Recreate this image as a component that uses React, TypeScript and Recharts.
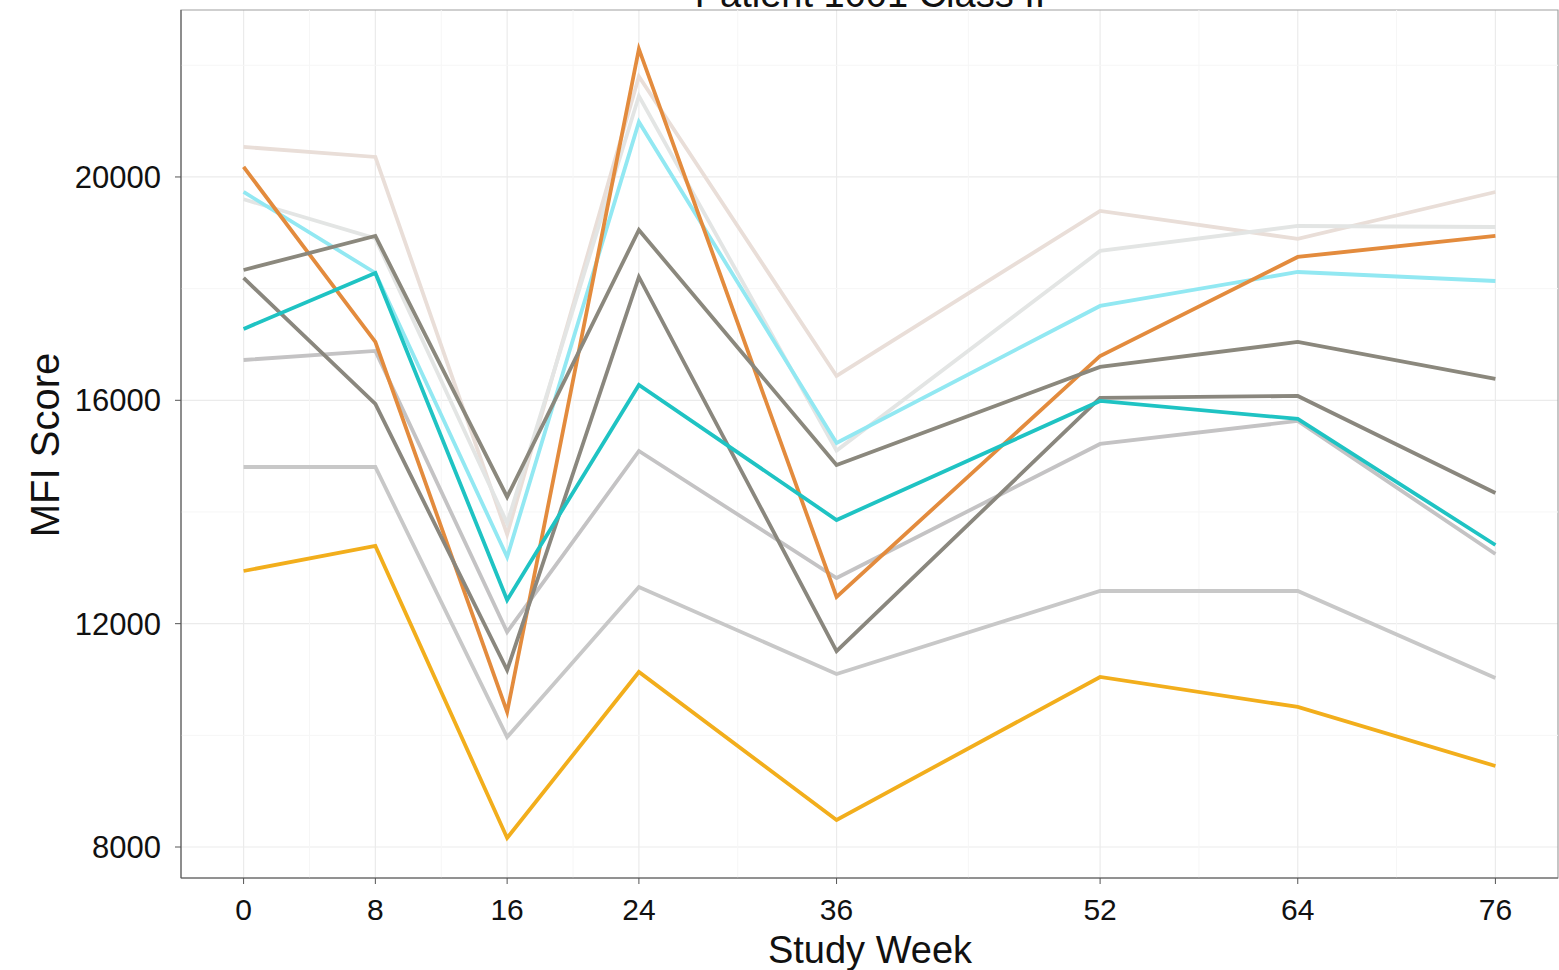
import { LineChart, Line, XAxis, YAxis, CartesianGrid, ReferenceLine, ReferenceArea } from "recharts";

const weeks = [0, 8, 16, 24, 36, 52, 64, 76];
const weekTicks = [0, 8, 16, 24, 36, 52, 64, 76];
const weekMinor = [4, 12, 20, 30, 44, 58, 70];
const scoreTicks = [8000, 12000, 16000, 20000];
const scoreMinor = [10000, 14000, 18000, 22000];

const beige = [20537, 20358, 13600, 21800, 16436, 19391, 18890, 19731];
const paleGray = [19600, 18900, 13800, 21450, 15100, 18675, 19122, 19104];
const orange = [20179, 17045, 10418, 22292, 12478, 16794, 18567, 18943];
const lightCyan = [19731, 18280, 13194, 20985, 15236, 17690, 18298, 18137];
const darkGrayA = [18334, 18943, 14269, 19050, 14842, 16597, 17045, 16382];
const darkGrayB = [18191, 15934, 11170, 18209, 11510, 16042, 16078, 14340];
const teal = [17278, 18280, 12424, 16275, 13857, 15988, 15666, 13409];
const midGray = [16722, 16884, 11850, 15093, 12818, 15218, 15630, 13248];
const lowGray = [14806, 14806, 9970, 12657, 11099, 12585, 12585, 11027];
const yellow = [12943, 13391, 8162, 11135, 8484, 11045, 10508, 9451];

const series = [
  { key: "beige", values: beige, color: "#e9ded8" },
  { key: "paleGray", values: paleGray, color: "#e3e5e4" },
  { key: "lowGray", values: lowGray, color: "#c8c8c8" },
  { key: "midGray", values: midGray, color: "#c4c3c4" },
  { key: "lightCyan", values: lightCyan, color: "#92e8f2" },
  { key: "orange", values: orange, color: "#e38b3d" },
  { key: "yellow", values: yellow, color: "#f2ae1c" },
  { key: "darkGrayA", values: darkGrayA, color: "#8b887d" },
  { key: "darkGrayB", values: darkGrayB, color: "#8a877e" },
  { key: "teal", values: teal, color: "#1fc3c3" },
];

const rows = weeks.map((w, i) => {
  const row: Record<string, number> = { week: w };
  series.forEach((s) => {
    row[s.key] = s.values[i];
  });
  return row;
});

const X_DOMAIN: [number, number] = [-3.8, 79.8];
const Y_DOMAIN: [number, number] = [7445, 22990];
const FONT = "'Liberation Sans', Arial, sans-serif";

export default function App() {
  return (
    <div style={{ position: "absolute", left: 0, top: 0, width: 1559, height: 970, background: "#fff" }}>
      <LineChart
        width={1559}
        height={970}
        data={rows}
        margin={{ top: 10, right: 1, bottom: 32, left: 0 }}
      >
        <CartesianGrid
          stroke="#ebebeb"
          strokeWidth={1.2}
          horizontalValues={scoreTicks}
          verticalValues={weekTicks}
          fill="#fff"
        />
        {weekMinor.map((v) => (
          <ReferenceLine key={`vx-${v}`} x={v} stroke="#f6f6f6" strokeWidth={1} />
        ))}
        {scoreMinor.map((v) => (
          <ReferenceLine key={`hy-${v}`} y={v} stroke="#f6f6f6" strokeWidth={1} />
        ))}
        <XAxis
          dataKey="week"
          type="number"
          domain={X_DOMAIN}
          ticks={weekTicks}
          allowDataOverflow
          height={60}
          tickSize={6}
          tickMargin={15}
          stroke="#555"
          tick={{ fill: "#111", fontSize: 30, fontFamily: FONT }}
        />
        <YAxis
          type="number"
          domain={Y_DOMAIN}
          ticks={scoreTicks}
          allowDataOverflow
          width={181}
          tickSize={6}
          tickMargin={14}
          stroke="#555"
          tick={{ fill: "#111", fontSize: 31, fontFamily: FONT }}
        />
        <ReferenceArea
          x1={X_DOMAIN[0]}
          x2={X_DOMAIN[1]}
          y1={Y_DOMAIN[0]}
          y2={Y_DOMAIN[1]}
          fill="none"
          stroke="#a0a0a0"
          strokeWidth={1.2}
          ifOverflow="visible"
        />
        {series.map((s) => (
          <Line
            key={s.key}
            dataKey={s.key}
            stroke={s.color}
            strokeWidth={3.8}
            dot={false}
            activeDot={false}
            isAnimationActive={false}
          />
        ))}
      </LineChart>
      <svg
        width={1559}
        height={970}
        style={{ position: "absolute", left: 0, top: 0, pointerEvents: "none" }}
      >
        <text x={870} y={7} textAnchor="middle" fontSize={38} fontFamily={FONT} fill="#111">
          Patient 1001 Class II
        </text>
        <text x={870} y={963} textAnchor="middle" fontSize={38} fontFamily={FONT} fill="#111">
          Study Week
        </text>
        <text
          x={59}
          y={445}
          textAnchor="middle"
          fontSize={40}
          fontFamily={FONT}
          fill="#111"
          transform="rotate(-90 59 445)"
        >
          MFI Score
        </text>
      </svg>
    </div>
  );
}
